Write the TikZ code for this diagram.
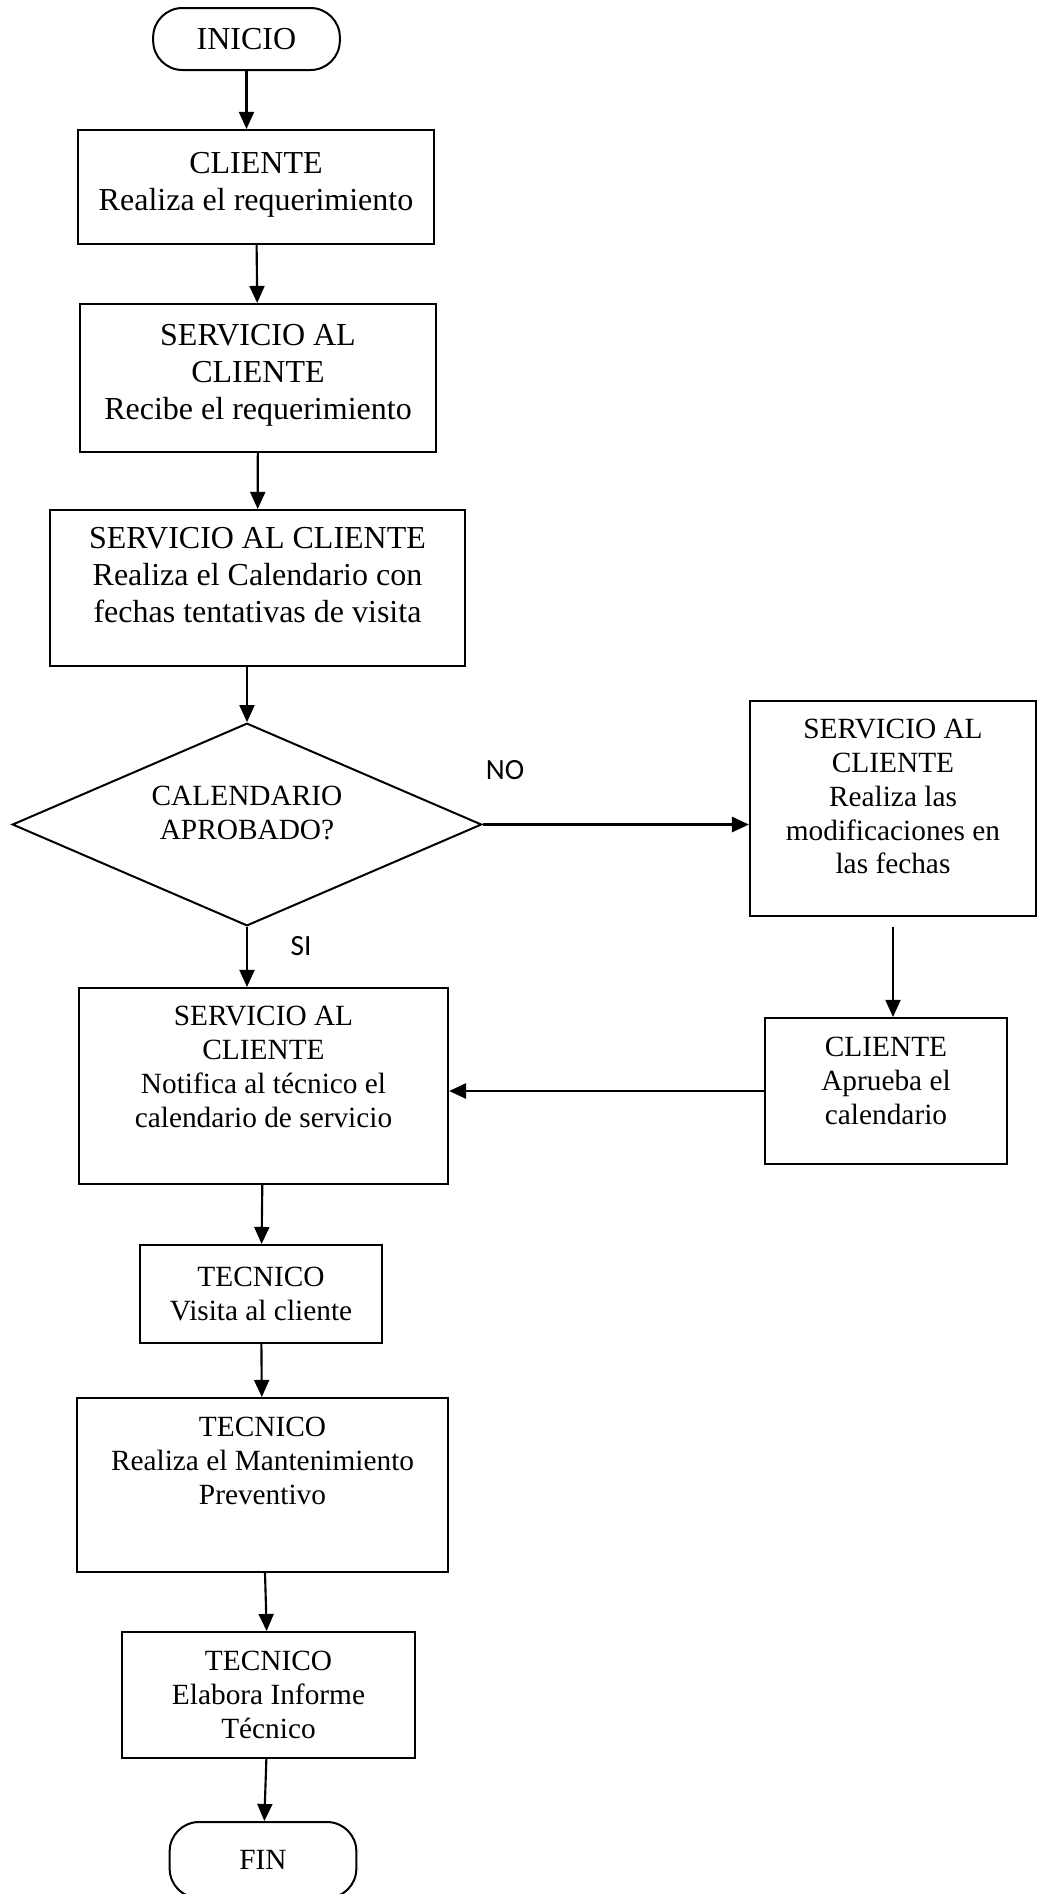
\documentclass[tikz,border=0pt]{standalone}
\usepackage{fontspec}
\setmainfont{Liberation Serif}
\newfontfamily\lblfont{Carlito}
\usetikzlibrary{arrows.meta,shapes.geometric}

\begin{document}
\begin{tikzpicture}[
  x=0.375pt, y=-0.375pt,
  every node/.style={font=\fontsize{11}{12.7}\selectfont},
  big/.style={font=\fontsize{12}{13.9}\selectfont},
  term/.style={draw, line width=0.75pt, rounded corners=11pt, align=center,
               minimum width=70pt, inner sep=0pt},
  stepbox/.style={draw, line width=0.75pt, align=center, inner sep=0pt},
  decision/.style={draw, line width=0.75pt, diamond, aspect=2.3, align=center,
                   inner sep=0pt, minimum width=176pt, minimum height=76pt},
  lbl/.style={font=\lblfont\fontsize{11}{13}\selectfont},
  arr/.style={-{Triangle[length=6.4pt,width=5.6pt]}, line width=0.8pt}
]
\useasboundingbox (0,0) rectangle (1038,1894);

% main column
\node[term, big, minimum height=23.25pt] (inicio) at (246.5,39) {INICIO};
\node[stepbox, big, minimum width=133.5pt, minimum height=42.75pt] (cli1) at (256,187)
  {CLIENTE\\Realiza el requerimiento\\[-9.4pt]};
\node[stepbox, big, minimum width=133.5pt, minimum height=55.5pt] (sac1) at (258,378)
  {SERVICIO AL\\CLIENTE\\Recibe el requerimiento\\[-9.4pt]};
\node[stepbox, big, minimum width=155.6pt, minimum height=58.5pt] (sac2) at (257.5,588)
  {SERVICIO AL CLIENTE\\Realiza el Calendario con\\fechas tentativas de visita\\[-4.2pt]};
\node[decision] (dec) at (247,824.5) {CALENDARIO\\APROBADO?\\[-3.7pt]};
\node[stepbox, minimum width=138.4pt, minimum height=73.5pt] (sac4) at (263.5,1086)
  {SERVICIO AL\\CLIENTE\\Notifica al técnico el\\calendario de servicio\\[1.5pt]};
\node[stepbox, minimum width=90.75pt, minimum height=36.75pt] (tec1) at (261,1294)
  {TECNICO\\Visita al cliente};
\node[stepbox, minimum width=139.1pt, minimum height=65.25pt] (tec2) at (262.5,1485)
  {TECNICO\\Realiza el Mantenimiento\\Preventivo\\[5.3pt]};
\node[stepbox, minimum width=109.9pt, minimum height=47.25pt] (tec3) at (268.5,1695)
  {TECNICO\\Elabora Informe\\Técnico};
\node[term, minimum height=28.5pt] (fin) at (263,1860) {FIN};

% right column
\node[stepbox, minimum width=107.25pt, minimum height=80.6pt] (sac3) at (893,808.5)
  {SERVICIO AL\\CLIENTE\\Realiza las\\modificaciones en\\las fechas\\[-3.7pt]};
\node[stepbox, minimum width=90.75pt, minimum height=54.75pt] (cli2) at (886,1091)
  {CLIENTE\\Aprueba el\\calendario\\[-5.2pt]};

% labels
\node[lbl] (lno) at (505,770) {NO};
\node[lbl] (lsi) at (301,946) {SI};

\draw[arr] (inicio) -- (inicio |- cli1.north);
\draw[arr] (cli1) -- (sac1);
\draw[arr] (sac1) -- (sac2);
\draw[arr] (sac2.south -| dec) -- (dec);
\draw[arr] (dec) -- (dec |- sac4.north);
\draw[arr, line width=1.1pt] (dec) -- (dec -| sac3.west);
\draw[arr, shorten <=3.75pt] (sac3) -- (sac3 |- cli2.north);
\draw[arr, line width=1.1pt] (cli2) -- (cli2 -| sac4.east);
\draw[arr] (sac4) -- (tec1);
\draw[arr] (tec1) -- (tec2);
\draw[arr] (tec2) -- (tec3);
\draw[arr] (tec3) -- (fin);
\end{tikzpicture}
\end{document}
